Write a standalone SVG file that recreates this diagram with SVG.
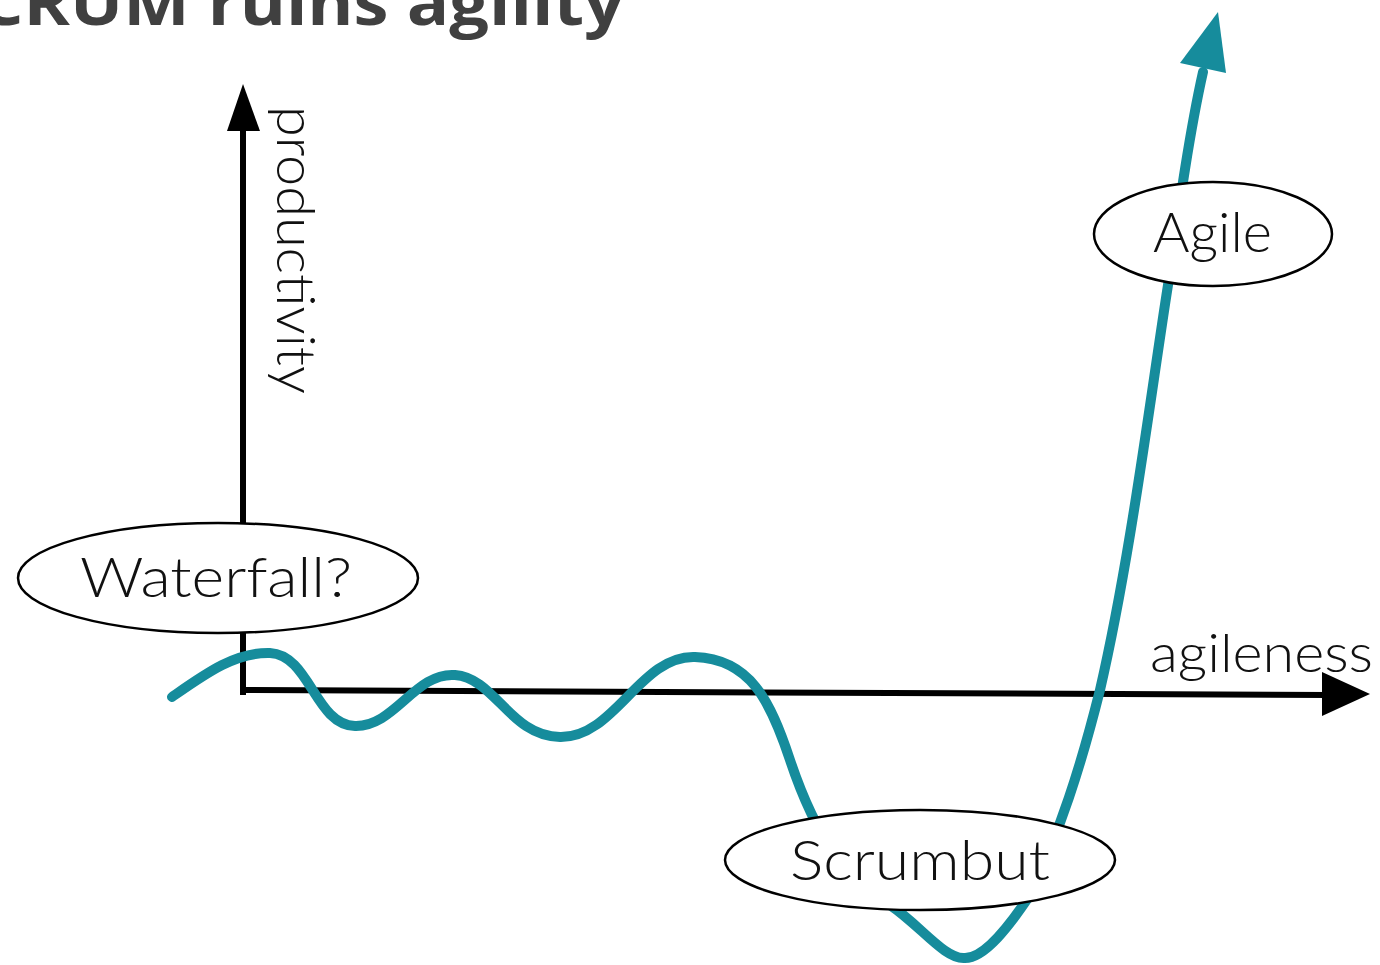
<svg xmlns="http://www.w3.org/2000/svg" width="1380" height="965" viewBox="0 0 1380 965">
<style>
.axis{stroke:#000;stroke-width:6;fill:none;stroke-linecap:square}
.head{fill:#000}
.curve{stroke:#168c9c;stroke-width:10;fill:none;stroke-linecap:round;stroke-linejoin:round}
.node{fill:#fff;stroke:#000;stroke-width:2.5}
.lbl{font-family:Lato,"Liberation Sans",sans-serif;font-weight:300;fill:#111}
.title{font-family:"Open Sans","Liberation Sans",sans-serif;font-weight:bold;fill:#404040}
</style>
<rect width="1380" height="965" fill="#fff"/>
<text class="title" x="-60" y="25" font-size="62" textLength="684" lengthAdjust="spacingAndGlyphs">SCRUM ruins agility</text>
<g id="connectors">
  <line class="axis" x1="243" y1="692" x2="243" y2="128"/>
  <polygon class="head" points="243,84 227,131 260,131"/>
  <line class="axis" x1="243" y1="690" x2="1325" y2="695"/>
  <polygon class="head" points="1370,694 1322,672 1322,716"/>
  <path class="curve" d="M172,697 C205,674 235,652 270,653 C310,655 315,725 355,726 C395,727 415,672 455,675 C495,678 510,736 560,737 C615,738 640,655 695,657 C750,659 770,700 790,760 C810,820 840,880 890,905 C920,925 945,960 965,958 C985,958 1010,925 1030,895 C1060,830 1080,770 1100,690 C1130,560 1150,400 1168,285 C1180,200 1190,130 1203,72"/>
  <polygon fill="#168c9c" points="1218,12 1180,63 1226,73"/>
</g>
<g id="axis-labels">
  <text class="lbl" transform="translate(277,106) rotate(90)" font-size="54" textLength="288" lengthAdjust="spacingAndGlyphs">productivity</text>
  <text class="lbl" x="1150" y="672" font-size="54" textLength="223" lengthAdjust="spacingAndGlyphs">agileness</text>
</g>
<g id="node-waterfall">
  <ellipse class="node" cx="218" cy="578" rx="200" ry="55"/>
  <text class="lbl" x="80" y="597" font-size="56" textLength="272" lengthAdjust="spacingAndGlyphs">Waterfall?</text>
</g>
<g id="node-agile">
  <ellipse class="node" cx="1213" cy="234" rx="119" ry="52"/>
  <text class="lbl" x="1153" y="252" font-size="56" textLength="119" lengthAdjust="spacingAndGlyphs">Agile</text>
</g>
<g id="node-scrumbut">
  <ellipse class="node" cx="920" cy="860" rx="195" ry="50"/>
  <text class="lbl" x="790" y="880" font-size="56" textLength="260" lengthAdjust="spacingAndGlyphs">Scrumbut</text>
</g>
</svg>
